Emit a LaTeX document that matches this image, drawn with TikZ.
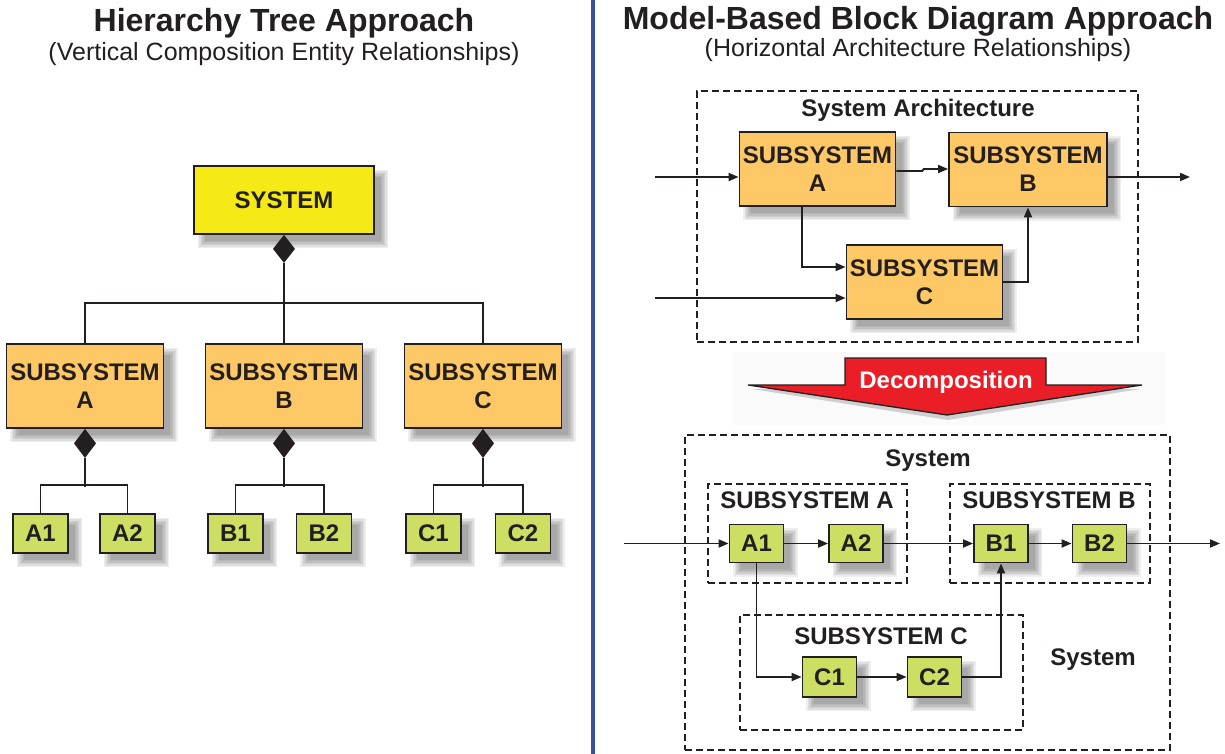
\documentclass[tikz,border=0pt]{standalone}
\usepackage{fontspec}
\setmainfont{Liberation Sans}
\usetikzlibrary{arrows.meta,calc}
\definecolor{sysyellow}{RGB}{245,233,22}
\definecolor{suborange}{RGB}{254,200,102}
\definecolor{leafgreen}{RGB}{206,222,98}
\definecolor{edgegray}{RGB}{35,31,32}
\definecolor{decored}{RGB}{234,30,38}
\definecolor{divblue}{RGB}{58,79,160}
\pgfdeclarelayer{shade}
\pgfsetlayers{shade,main}
% soft shadow behind a node: stacked translucent rectangles, offset down-right
\newcommand\softshade[1]{%
  \begin{pgfonlayer}{shade}
    \foreach \k in {-3,-1.5,0,1.5,3,4.5}{
      \fill[black, opacity=0.065]
        ($(#1.north west)+(9-\k,9-\k)$) rectangle ($(#1.south east)+(9+\k,9+\k)$);
    }
  \end{pgfonlayer}}
\tikzset{
  box/.style={draw=edgegray, line width=1.8pt, inner sep=0pt, align=center,
    font=\bfseries\fontsize{24}{28}\selectfont, text=edgegray},
  sysbox/.style={box, fill=sysyellow, minimum width=180pt, minimum height=68pt},
  subbox/.style={box, fill=suborange, minimum width=157pt, minimum height=84pt},
  blockbox/.style={box, fill=suborange, minimum width=156pt, minimum height=74pt},
  leaf/.style={box, fill=leafgreen, minimum width=55pt, minimum height=39pt},
  leafr/.style={box, fill=leafgreen, minimum width=54pt, minimum height=38pt},
  conn/.style={draw=edgegray, line width=1.8pt},
  arr/.style={conn, -{Triangle[length=10pt,width=8pt]}},
  frame/.style={draw=edgegray, line width=1.5pt, dash pattern=on 7pt off 4pt, inner sep=0pt},
  lbl/.style={font=\bfseries\fontsize{24}{28}\selectfont, text=edgegray, anchor=base, inner sep=0pt},
  title/.style={font=\bfseries\fontsize{32}{36}\selectfont, text=edgegray, anchor=base, inner sep=0pt},
  subtitle/.style={font=\fontsize{25}{30}\selectfont, text=edgegray, anchor=base, inner sep=0pt},
}
\begin{document}
\begin{tikzpicture}[x=1pt,y=-1pt]
\useasboundingbox (0,0) rectangle (1225,754);

% divider between the two halves
\draw[divblue, line width=4pt] (593,0) -- (593,754);

% ---------- hierarchy tree ----------
\node[title] (t1) at (284,31.5) {Hierarchy Tree Approach};
\node[subtitle] (st1) at (284,61) {(Vertical Composition Entity Relationships)};

\node[sysbox] (sys) at (284,200) {SYSTEM};
\node[subbox] (subA) at (85,386) {SUBSYSTEM\\A};
\node[subbox] (subB) at (284,386) {SUBSYSTEM\\B};
\node[subbox] (subC) at (483,386) {SUBSYSTEM\\C};

\node[leaf] (a1) at (40.5,533.5) {A1};
\node[leaf] (a2) at (127.5,533.5) {A2};
\node[leaf] (b1) at (235.5,533.5) {B1};
\node[leaf] (b2) at (324,533.5) {B2};
\node[leaf] (c1) at (433.5,533.5) {C1};
\node[leaf] (c2) at (523,533.5) {C2};

\foreach \n in {sys,subA,subB,subC,a1,a2,b1,b2,c1,c2}{\softshade{\n}}

% composition diamonds and tree lines
\foreach \p/\l/\r in {subA/a1/a2, subB/b1/b2, subC/c1/c2}{
  \fill[edgegray] (\p.south) -- ++(11,14.5) -- ++(-11,14.5) -- ++(-11,-14.5) -- cycle;
  \draw[conn] ($(\p.south)+(0,29)$) -- ++(0,29);
  \draw[conn] (\l.north) -- ++(0,-28) -| (\r.north);
}
\fill[edgegray] (sys.south) -- ++(11,14) -- ++(-11,14) -- ++(-11,-14) -- cycle;
\draw[conn] ($(sys.south)+(0,28)$) -- (subB.north);
\draw[conn] (subA.north) -- ++(0,-40) -| (subC.north);

% ---------- block diagram ----------
\node[title] (t2) at (918,29.5) {Model-Based Block Diagram Approach};
\node[subtitle] (st2) at (918,57) {(Horizontal Architecture Relationships)};

\node[frame, minimum width=441pt, minimum height=251pt] (arch) at (917.5,216.5) {};
\node[lbl] (archlbl) at (918,116.6) {System Architecture};

\node[blockbox] (sA) at (817.5,169) {SUBSYSTEM\\A};
\node[blockbox, minimum width=158pt] (sB) at (1028,169.5) {SUBSYSTEM\\B};
\node[blockbox] (sC) at (924.5,282) {SUBSYSTEM\\C};
\foreach \n in {sA,sB,sC}{\softshade{\n}}

\coordinate (in1) at (655,177);
\coordinate (in2) at (655,298);
\coordinate (out1) at (1190,177);
\coordinate (ab) at ($(sA.east)+(0,2)$);
\coordinate (abj) at (922,171);
\coordinate (abk) at (924,169);
\draw[arr] (in1) -- (in1 -| sA.west);
\draw[arr] (in2) -- (in2 -| sC.west);
\draw[arr] (ab) -- (abj) -- (abk) -- (abk -| sB.west);
\draw[arr] (out1 -| sB.east) -- (out1);
\coordinate (adown) at ($(sA.south)+(-15.5,0)$);
\coordinate (cin) at ($(sC.west)+(0,-15)$);
\draw[arr] (adown) |- (cin);
\draw[arr] (sC.east) -| (sB.south);

% decomposition arrow
\fill[black!2] (733,352) rectangle (1165,425);
\fill[black!35, opacity=0.5] (752,389) -- (1140,389) -- (948,420) -- cycle;
\fill[decored, draw=edgegray, line width=1.3pt, line join=miter]
  (748,385) -- (845,385) -- (845,358) -- (1046,358) -- (1046,385) -- (1142,385) -- (947,415) -- cycle;
\node[lbl, text=white] (decomp) at (946,388) {Decomposition};

% decomposed system
\node[frame, minimum width=485pt, minimum height=315pt] (sysfr) at (927.5,592.5) {};
\node[lbl] (syslbl) at (928,466.6) {System};
\node[lbl] (syslbl2) at (1093,665.6) {System};

\node[frame, minimum width=199pt, minimum height=99pt] (frA) at (807.5,533.5) {};
\node[frame, minimum width=200pt, minimum height=99pt] (frB) at (1050,533.5) {};
\node[frame, minimum width=283pt, minimum height=115pt] (frC) at (881.5,672.5) {};
\node[lbl] (lblA) at (807,508.6) {SUBSYSTEM A};
\node[lbl] (lblB) at (1049,508.6) {SUBSYSTEM B};
\node[lbl] (lblC) at (881,644.6) {SUBSYSTEM C};

\node[leafr] (ra1) at (756.5,543.5) {A1};
\node[leafr] (ra2) at (856,543.5) {A2};
\node[leafr] (rb1) at (1001,543.5) {B1};
\node[leafr] (rb2) at (1099.5,543.5) {B2};
\node[leafr, minimum height=40pt] (rc1) at (829.5,677) {C1};
\node[leafr, minimum height=40pt] (rc2) at (934.5,677) {C2};
\foreach \n in {ra1,ra2,rb1,rb2,rc1,rc2}{\softshade{\n}}

\coordinate (in3) at (624,543.5);
\coordinate (out3) at (1220,543.5);
\draw[arr] (in3) -- (ra1);
\draw[arr] (ra1) -- (ra2);
\draw[arr] (ra2) -- (rb1);
\draw[arr] (rb1) -- (rb2);
\draw[arr] (rb2) -- (out3);
\draw[arr] (ra1.south) |- (rc1.west);
\draw[arr] (rc1) -- (rc2);
\draw[arr] (rc2.east) -| (rb1.south);
\end{tikzpicture}
\end{document}
